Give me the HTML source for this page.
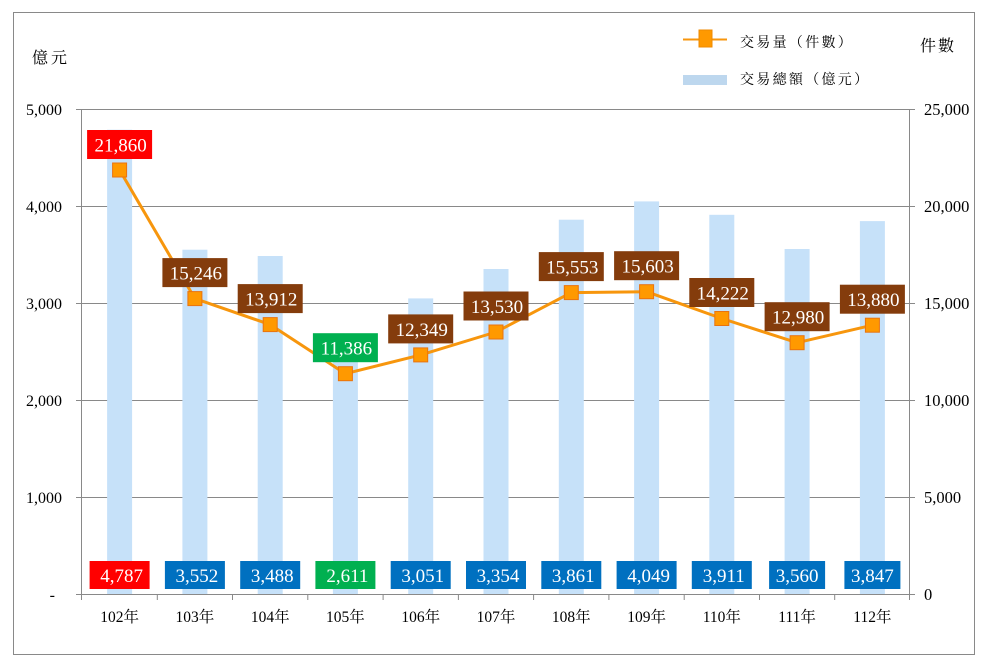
<!DOCTYPE html>
<html><head><meta charset="utf-8"><style>
html,body{margin:0;padding:0;background:#fff;}
svg{display:block;}
.s{font-family:"Liberation Serif","Noto Serif CJK SC",serif;}
.c{font-family:"Liberation Serif","Noto Serif CJK TC","Noto Serif CJK SC",serif;}
</style></head><body>
<svg width="985" height="665" viewBox="0 0 985 665" xmlns="http://www.w3.org/2000/svg">
<rect x="0" y="0" width="985" height="665" fill="#fff"/>
<rect x="13.5" y="12.5" width="961" height="642" fill="none" stroke="#898989" stroke-width="1"/>

<!-- gridlines -->
<g stroke="#898989" stroke-width="1">
<line x1="76" y1="109.5" x2="915" y2="109.5"/>
<line x1="76" y1="206.5" x2="915" y2="206.5"/>
<line x1="76" y1="303.5" x2="915" y2="303.5"/>
<line x1="76" y1="400.5" x2="915" y2="400.5"/>
<line x1="76" y1="497.5" x2="915" y2="497.5"/>
</g>

<!-- bars -->
<g fill="#c6e1f9">
<rect x="107.1" y="129.7" width="25" height="465.3"/>
<rect x="182.4" y="249.7" width="25" height="345.3"/>
<rect x="257.7" y="256.0" width="25" height="339.0"/>
<rect x="332.9" y="341.2" width="25" height="253.8"/>
<rect x="408.2" y="298.4" width="25" height="296.6"/>
<rect x="483.5" y="269.0" width="25" height="326.0"/>
<rect x="558.8" y="219.7" width="25" height="375.3"/>
<rect x="634.1" y="201.4" width="25" height="393.6"/>
<rect x="709.3" y="214.8" width="25" height="380.2"/>
<rect x="784.6" y="249.0" width="25" height="346.0"/>
<rect x="859.9" y="221.1" width="25" height="373.9"/>
</g>

<!-- axes -->
<g stroke="#898989" stroke-width="1">
<line x1="81.5" y1="109" x2="81.5" y2="595"/>
<line x1="909.5" y1="109" x2="909.5" y2="595"/>
<line x1="76" y1="594.5" x2="915" y2="594.5"/>
<line x1="81.5" y1="594" x2="81.5" y2="600"/>
<line x1="157.3" y1="594" x2="157.3" y2="600"/>
<line x1="232.5" y1="594" x2="232.5" y2="600"/>
<line x1="307.8" y1="594" x2="307.8" y2="600"/>
<line x1="383.1" y1="594" x2="383.1" y2="600"/>
<line x1="458.4" y1="594" x2="458.4" y2="600"/>
<line x1="533.6" y1="594" x2="533.6" y2="600"/>
<line x1="608.9" y1="594" x2="608.9" y2="600"/>
<line x1="684.2" y1="594" x2="684.2" y2="600"/>
<line x1="759.5" y1="594" x2="759.5" y2="600"/>
<line x1="834.7" y1="594" x2="834.7" y2="600"/>
<line x1="909.5" y1="594" x2="909.5" y2="600"/>
</g>

<!-- left axis labels -->
<g class="s" font-size="16" fill="#000" text-anchor="end">
<text x="62" y="115">5,000</text>
<text x="62" y="212">4,000</text>
<text x="62" y="309">3,000</text>
<text x="62" y="406">2,000</text>
<text x="62" y="503">1,000</text>
<text x="55" y="600">-</text>
</g>
<!-- right axis labels -->
<g class="s" font-size="16.5" fill="#000" text-anchor="start">
<text x="924" y="115">25,000</text>
<text x="924" y="212">20,000</text>
<text x="924" y="309">15,000</text>
<text x="924" y="406">10,000</text>
<text x="924" y="503">5,000</text>
<text x="924" y="600">0</text>
</g>

<!-- axis titles -->
<text class="c" x="32" y="63" font-size="16" letter-spacing="3" fill="#000">億元</text>
<text class="c" x="920" y="51" font-size="16" letter-spacing="2" fill="#000">件數</text>

<!-- category labels -->
<g class="c" font-size="15.5" fill="#000" text-anchor="middle">
<text x="119.6" y="622">102年</text>
<text x="194.9" y="622">103年</text>
<text x="270.2" y="622">104年</text>
<text x="345.4" y="622">105年</text>
<text x="420.7" y="622">106年</text>
<text x="496.0" y="622">107年</text>
<text x="571.3" y="622">108年</text>
<text x="646.6" y="622">109年</text>
<text x="721.8" y="622">110年</text>
<text x="797.1" y="622">111年</text>
<text x="872.4" y="622">112年</text>
</g>

<!-- line -->
<polyline fill="none" stroke="#f7960d" stroke-width="3" stroke-linejoin="round"
points="119.6,170.0 194.9,298.6 270.2,324.6 345.4,373.7 420.7,354.9 496.0,332.0 571.3,292.6 646.6,291.7 721.8,318.5 797.1,342.7 872.4,325.2"/>

<!-- markers -->
<g fill="#ff9900" stroke="#e9730f" stroke-width="1">
<rect x="112.6" y="163.0" width="14" height="14"/>
<rect x="187.9" y="291.6" width="14" height="14"/>
<rect x="263.2" y="317.6" width="14" height="14"/>
<rect x="338.4" y="366.7" width="14" height="14"/>
<rect x="413.7" y="347.9" width="14" height="14"/>
<rect x="489.0" y="325.0" width="14" height="14"/>
<rect x="564.3" y="285.6" width="14" height="14"/>
<rect x="639.6" y="284.7" width="14" height="14"/>
<rect x="714.8" y="311.5" width="14" height="14"/>
<rect x="790.1" y="335.7" width="14" height="14"/>
<rect x="865.4" y="318.2" width="14" height="14"/>
</g>

<!-- line labels -->
<g>
<rect x="87.1" y="130" width="65" height="29" fill="#ff0000"/>
<rect x="162.4" y="258.1" width="65" height="29" fill="#843c0c"/>
<rect x="237.7" y="284.1" width="65" height="29" fill="#843c0c"/>
<rect x="312.9" y="333.2" width="65" height="29" fill="#00b050"/>
<rect x="388.2" y="314.4" width="65" height="29" fill="#843c0c"/>
<rect x="463.5" y="291.5" width="65" height="29" fill="#843c0c"/>
<rect x="538.8" y="252.1" width="65" height="29" fill="#843c0c"/>
<rect x="614.1" y="251.2" width="65" height="29" fill="#843c0c"/>
<rect x="689.3" y="278.0" width="65" height="29" fill="#843c0c"/>
<rect x="764.6" y="302.2" width="65" height="29" fill="#843c0c"/>
<rect x="839.9" y="284.7" width="65" height="29" fill="#843c0c"/>
</g>
<g class="s" font-size="19" fill="#fff" text-anchor="middle">
<text x="120.6" y="151.5">21,860</text>
<text x="195.9" y="279.6">15,246</text>
<text x="271.2" y="305.6">13,912</text>
<text x="346.4" y="354.7">11,386</text>
<text x="421.7" y="335.9">12,349</text>
<text x="497.0" y="313.0">13,530</text>
<text x="572.3" y="273.6">15,553</text>
<text x="647.6" y="272.7">15,603</text>
<text x="722.8" y="299.5">14,222</text>
<text x="798.1" y="323.7">12,980</text>
<text x="873.4" y="306.2">13,880</text>
</g>

<!-- bottom value labels -->
<g>
<rect x="89.6" y="561" width="60" height="28" fill="#ff0000"/>
<rect x="164.9" y="561" width="60" height="28" fill="#0070c0"/>
<rect x="240.2" y="561" width="60" height="28" fill="#0070c0"/>
<rect x="315.4" y="561" width="60" height="28" fill="#00b050"/>
<rect x="390.7" y="561" width="60" height="28" fill="#0070c0"/>
<rect x="466.0" y="561" width="60" height="28" fill="#0070c0"/>
<rect x="541.3" y="561" width="60" height="28" fill="#0070c0"/>
<rect x="616.6" y="561" width="60" height="28" fill="#0070c0"/>
<rect x="691.8" y="561" width="60" height="28" fill="#0070c0"/>
<rect x="769.1" y="561" width="56" height="28" fill="#0070c0"/>
<rect x="844.4" y="561" width="56" height="28" fill="#0070c0"/>
</g>
<g class="s" font-size="19" fill="#fff" text-anchor="middle">
<text x="121.6" y="582">4,787</text>
<text x="196.9" y="582">3,552</text>
<text x="272.2" y="582">3,488</text>
<text x="347.4" y="582">2,611</text>
<text x="422.7" y="582">3,051</text>
<text x="498.0" y="582">3,354</text>
<text x="573.3" y="582">3,861</text>
<text x="648.6" y="582">4,049</text>
<text x="723.8" y="582">3,911</text>
<text x="797.1" y="582">3,560</text>
<text x="872.4" y="582">3,847</text>
</g>

<!-- legend -->
<line x1="683" y1="39.5" x2="727" y2="39.5" stroke="#f7960d" stroke-width="2"/>
<rect x="699" y="30" width="13" height="17" fill="#ff9900" stroke="#ef8a00" stroke-width="1"/>
<rect x="683" y="75" width="44" height="10" fill="#bdd7ee"/>
<g class="c" font-size="14" fill="#000" letter-spacing="2.3">
<text x="740" y="47">交易量（件數）</text>
<text x="740" y="84">交易總額（億元）</text>
</g>
</svg>
</body></html>
